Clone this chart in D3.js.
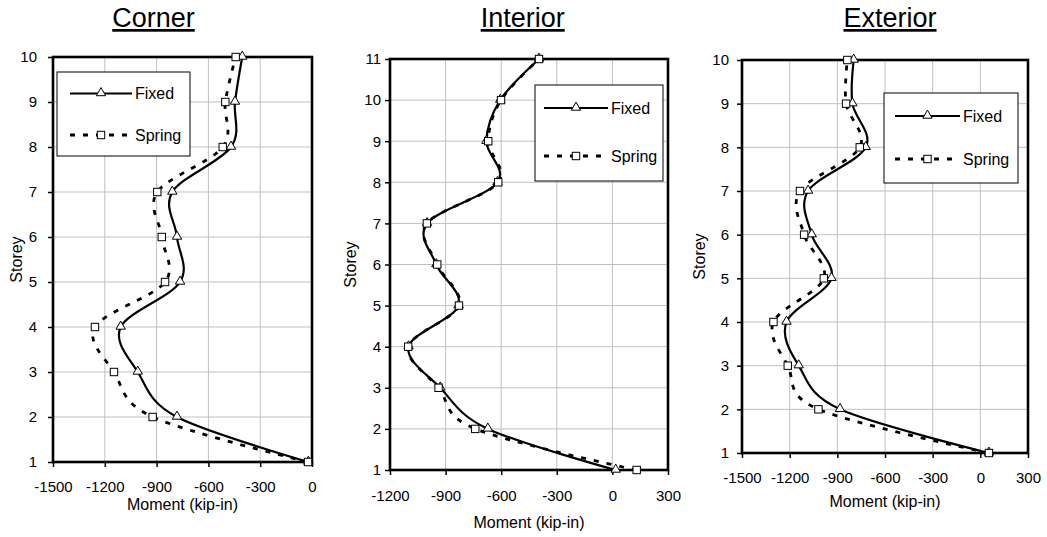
<!DOCTYPE html>
<html>
<head>
<meta charset="utf-8">
<script src="https://cdn.jsdelivr.net/npm/d3@7"></script>
<style>
  body { margin: 0; background: #fff; }
  svg { font-family: Arial, "Liberation Sans", sans-serif; }
</style>
</head>
<body>
<div id="vis"></div>
<script>
// Data (storey 1 at the bottom, upward)
const storeys10 = [1, 2, 3, 4, 5, 6, 7, 8, 9, 10];
const storeys11 = [1, 2, 3, 4, 5, 6, 7, 8, 9, 10, 11];

const cornerFixed = [-21, -782, -1009, -1108, -764, -782, -809, -469, -446, -404];
const cornerSpring = [-23, -923, -1147, -1257, -851, -870, -896, -517, -502, -442];

const interiorFixed = [18, -672, -929, -1100, -830, -950, -1000, -620, -680, -605, -396];
const interiorSpring = [131, -740, -938, -1102, -828, -945, -1001, -616, -670, -601, -396];

const exteriorFixed = [54, -883, -1143, -1220, -937, -1061, -1084, -721, -805, -797];
const exteriorSpring = [54, -1019, -1212, -1302, -985, -1109, -1135, -759, -845, -837];

const cornerTicks = [-1500, -1200, -900, -600, -300, 0];
const interiorTicks = [-1200, -900, -600, -300, 0, 300];
const exteriorTicks = [-1500, -1200, -900, -600, -300, 0, 300];

const seriesNames = ["Fixed", "Spring"];

const width = 1047;
const height = 537;

const svg = d3.select("#vis").append("svg")
    .attr("width", width)
    .attr("height", height);

// Layout for each panel
const panels = [
  { title: "Corner", titleX: 153.5, storeys: storeys10, fixed: cornerFixed, spring: cornerSpring,
    ticks: cornerTicks, x0: 53, x1: 312, y0: 57, y1: 462, labelPad: 13,
    tickY: 492, axisTitleY: 510, storeyX: 22, legend: { x: 57, y: 72, w: 133, h: 84, l0: 70, l1: 132, fy: 93.5, sy: 135 } },
  { title: "Interior", titleX: 522.7, storeys: storeys11, fixed: interiorFixed, spring: interiorSpring,
    ticks: interiorTicks, x0: 390, x1: 668, y0: 59, y1: 470, labelPad: 6,
    tickY: 501, axisTitleY: 528, storeyX: 356, legend: { x: 535, y: 85, w: 128, h: 96, l0: 544, l1: 608, fy: 108, sy: 156 } },
  { title: "Exterior", titleX: 890, storeys: storeys10, fixed: exteriorFixed, spring: exteriorSpring,
    ticks: exteriorTicks, x0: 742, x1: 1028, y0: 60, y1: 453, labelPad: 10,
    tickY: 483, axisTitleY: 507, storeyX: 705, legend: { x: 884, y: 93, w: 134, h: 90, l0: 895, l1: 960, fy: 116, sy: 159 } }
];

function triangle(g, x, y) {
  g.append("path")
    .attr("d", d3.symbol().type(d3.symbolTriangle).size(38)())
    .attr("transform", "translate(" + x + "," + (y - 0.5) + ")")
    .attr("fill", "#fff").attr("stroke", "#000").attr("stroke-width", 1);
}

function square(g, x, y) {
  g.append("rect")
    .attr("x", x - 3.7).attr("y", y - 3.7)
    .attr("width", 7.4).attr("height", 7.4)
    .attr("fill", "#fff").attr("stroke", "#000").attr("stroke-width", 1);
}

panels.forEach(p => {
  const g = svg.append("g");

  const x = d3.scaleLinear()
      .domain([p.ticks[0], p.ticks[p.ticks.length - 1]])
      .range([p.x0, p.x1]);
  const y = d3.scaleLinear()
      .domain([1, p.storeys.length])
      .range([p.y1, p.y0]);

  // Title
  g.append("text")
      .attr("x", p.titleX).attr("y", 27)
      .attr("text-anchor", "middle")
      .attr("font-size", 27)
      .style("text-decoration", "underline")
      .text(p.title);

  // Gridlines
  g.append("g").selectAll("line")
    .data(p.ticks)
    .enter().append("line")
      .attr("x1", d => x(d)).attr("x2", d => x(d))
      .attr("y1", p.y0).attr("y2", p.y1)
      .attr("stroke", "#c0c0c0").attr("stroke-width", 1);
  g.append("g").selectAll("line")
    .data(p.storeys)
    .enter().append("line")
      .attr("x1", p.x0).attr("x2", p.x1)
      .attr("y1", d => y(d)).attr("y2", d => y(d))
      .attr("stroke", "#c0c0c0").attr("stroke-width", 1);

  // Axes
  const xAxis = g.append("g")
      .attr("transform", "translate(0," + p.y1 + ")")
      .call(d3.axisBottom(x).tickValues(p.ticks).tickSize(5).tickFormat(d3.format("d")));
  xAxis.select(".domain").remove();
  xAxis.selectAll("line").attr("stroke", "#000").attr("stroke-width", 1.5);
  xAxis.selectAll("text")
      .attr("y", p.tickY - p.y1).attr("dy", null)
      .attr("font-size", 15).attr("font-family", "Arial, 'Liberation Sans', sans-serif")
      .text(d => d < 0 ? "-" + Math.abs(d) : d);

  const yAxis = g.append("g")
      .attr("transform", "translate(" + p.x0 + ",0)")
      .call(d3.axisLeft(y).tickValues(p.storeys).tickSize(5).tickPadding(p.labelPad - 2));
  yAxis.select(".domain").remove();
  yAxis.selectAll("line").attr("stroke", "#000").attr("stroke-width", 1.5);
  yAxis.selectAll("text")
      .attr("font-size", 15).attr("font-family", "Arial, 'Liberation Sans', sans-serif");

  // Axis titles
  g.append("text")
      .attr("x", (p.x0 + p.x1) / 2).attr("y", p.axisTitleY)
      .attr("text-anchor", "middle").attr("font-size", 16)
      .text("Moment (kip-in)");
  g.append("text")
      .attr("transform", "translate(" + p.storeyX + "," + ((p.y0 + p.y1) / 2) + ")rotate(-90)")
      .attr("text-anchor", "middle").attr("font-size", 16)
      .text("Storey");

  // Lines
  const line = d3.line()
      .x(d => x(d[0]))
      .y(d => y(d[1]))
      .curve(d3.curveCardinal.tension(0));

  const fixedPts = p.storeys.map((s, i) => [p.fixed[i], s]);
  const springPts = p.storeys.map((s, i) => [p.spring[i], s]);

  g.append("path")
      .attr("d", line(fixedPts))
      .attr("fill", "none").attr("stroke", "#000").attr("stroke-width", 2.2);
  g.append("path")
      .attr("d", line(springPts))
      .attr("fill", "none").attr("stroke", "#000").attr("stroke-width", 2.8)
      .attr("stroke-dasharray", "5,8");

  // Plot frame
  g.append("rect")
      .attr("x", p.x0).attr("y", p.y0)
      .attr("width", p.x1 - p.x0).attr("height", p.y1 - p.y0)
      .attr("fill", "none").attr("stroke", "#000").attr("stroke-width", 2.6);

  // Markers
  fixedPts.forEach(d => triangle(g, x(d[0]), y(d[1])));
  springPts.forEach(d => square(g, x(d[0]), y(d[1])));

  // Legend
  const L = p.legend;
  const lg = g.append("g");
  lg.append("rect")
      .attr("x", L.x).attr("y", L.y).attr("width", L.w).attr("height", L.h)
      .attr("fill", "#fff").attr("stroke", "#000").attr("stroke-width", 1);
  lg.append("line")
      .attr("x1", L.l0).attr("x2", L.l1).attr("y1", L.fy).attr("y2", L.fy)
      .attr("stroke", "#000").attr("stroke-width", 2.2);
  triangle(lg, (L.l0 + L.l1) / 2, L.fy);
  lg.append("line")
      .attr("x1", L.l0).attr("x2", L.l1).attr("y1", L.sy).attr("y2", L.sy)
      .attr("stroke", "#000").attr("stroke-width", 2.8)
      .attr("stroke-dasharray", "5,8");
  square(lg, (L.l0 + L.l1) / 2, L.sy);
  lg.selectAll("text.leg")
    .data(seriesNames)
    .enter().append("text")
      .attr("class", "leg")
      .attr("x", L.l1 + 3)
      .attr("y", (d, i) => (i === 0 ? L.fy : L.sy) + 5.5)
      .attr("font-size", 16)
      .text(d => d);
});
</script>
</body>
</html>
